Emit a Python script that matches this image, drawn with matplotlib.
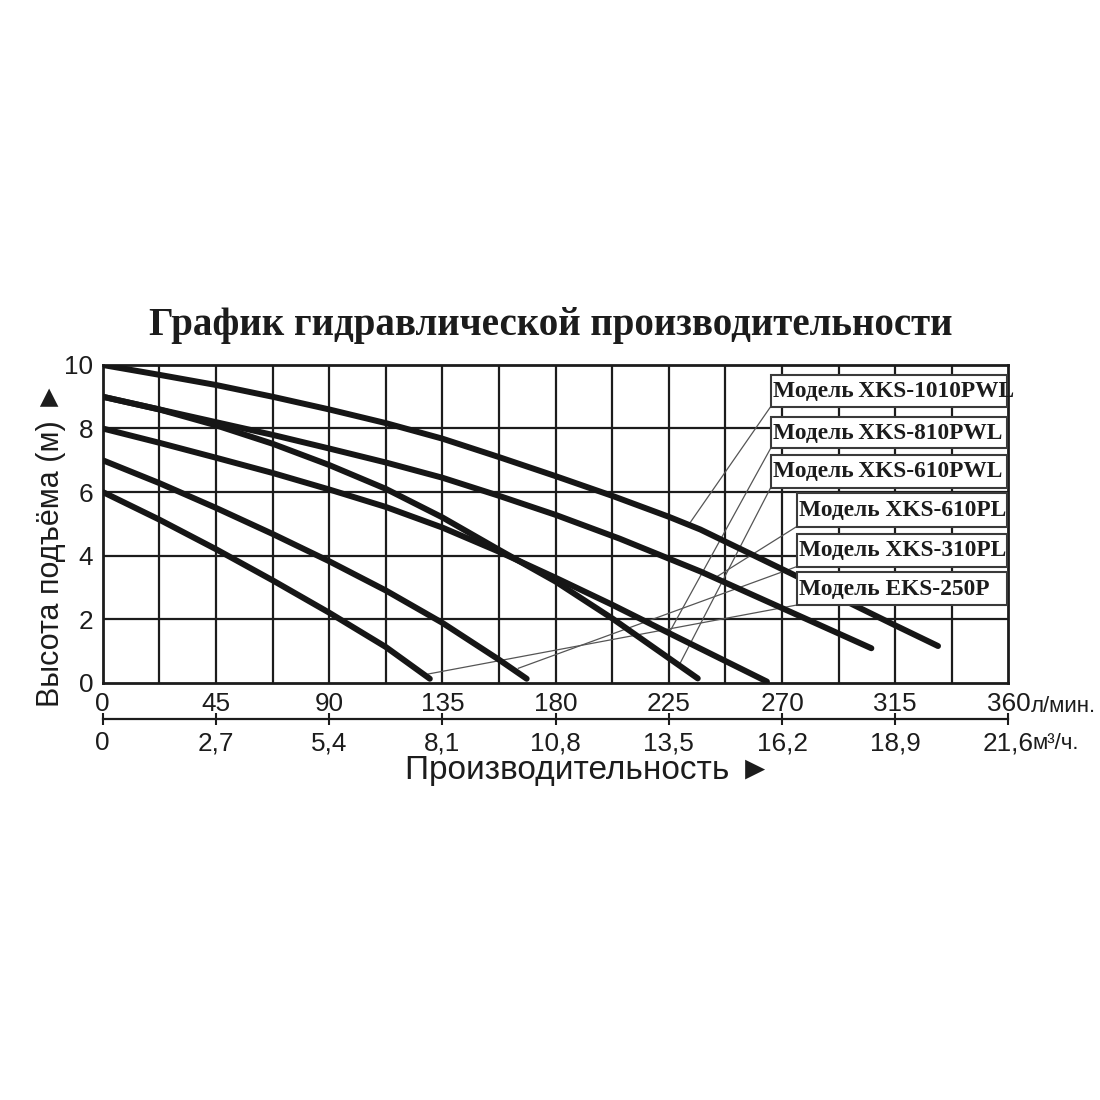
import matplotlib
matplotlib.use("Agg")
import matplotlib.pyplot as plt
from matplotlib.patches import Rectangle

plt.rcParams['font.family'] = ['Liberation Sans', 'DejaVu Sans']

# ---- data (flow in l/min, head in m) ----
c1_x = [0, 22.5, 45, 67.5, 90, 112.5, 135, 157.5, 180, 202.5, 225, 237.5, 274.5, 297, 315, 332]
c1_y = [10.0, 9.69, 9.37, 9.0, 8.6, 8.17, 7.68, 7.1, 6.5, 5.88, 5.22, 4.82, 3.4, 2.5, 1.8, 1.15]

c2_x = [0, 22.5, 45, 67.5, 90, 112.5, 135, 157.5, 180, 205.5, 237.5, 269, 305.5]
c2_y = [9.0, 8.6, 8.2, 7.8, 7.37, 6.93, 6.45, 5.88, 5.28, 4.53, 3.5, 2.38, 1.08]

c3_x = [0, 22.5, 45, 67.5, 90, 112.5, 135, 157.5, 180, 202.5, 236.5]
c3_y = [9.0, 8.6, 8.1, 7.52, 6.85, 6.1, 5.2, 4.18, 3.18, 2.02, 0.13]

c4_x = [0, 22.5, 45, 67.5, 90, 112.5, 135, 157.5, 180, 202.5, 225, 264]
c4_y = [8.0, 7.55, 7.08, 6.6, 6.08, 5.53, 4.88, 4.12, 3.3, 2.45, 1.56, 0.03]

c5_x = [0, 22.5, 45, 67.5, 90, 112.5, 135, 157.5, 168.5]
c5_y = [7.0, 6.28, 5.5, 4.68, 3.82, 2.9, 1.88, 0.72, 0.12]

c6_x = [0, 22.5, 45, 67.5, 90, 112.5, 130]
c6_y = [6.0, 5.13, 4.2, 3.22, 2.2, 1.12, 0.12]

curves = [(c1_x, c1_y), (c2_x, c2_y), (c3_x, c3_y), (c4_x, c4_y), (c5_x, c5_y), (c6_x, c6_y)]

model_labels = ["Модель\u2009XKS-1010PWL", "Модель\u2009XKS-810PWL", "Модель\u2009XKS-610PWL",
                "Модель XKS-610PL", "Модель XKS-310PL", "Модель EKS-250P"]
# box extents (data units)
box_x0 = [265.5, 265.5, 265.5, 275.8, 275.8, 275.8]
box_x1 = [359.3, 359.3, 359.3, 359.3, 359.3, 359.3]
box_y0 = [8.69, 7.38, 6.14, 4.91, 3.65, 2.44]
box_y1 = [9.69, 8.37, 7.17, 5.96, 4.68, 3.49]
# leader line targets on curves
lead_x = [232.8, 225.5, 229.5, 242.6, 165.2, 129.4]
lead_y = [4.96, 1.62, 0.61, 3.26, 0.45, 0.27]

lpm_ticks = [0, 45, 90, 135, 180, 225, 270, 315, 360]
lpm_labels = ["0", "45", "90", "135", "180", "225", "270", "315", "360"]
m3h_ticks = [0, 2.7, 5.4, 8.1, 10.8, 13.5, 16.2, 18.9, 21.6]
m3h_labels = ["0", "2,7", "5,4", "8,1", "10,8", "13,5", "16,2", "18,9", "21,6"]
head_ticks = [0, 2, 4, 6, 8, 10]
grid_x = [22.5 * i for i in range(1, 16)]

title = "График гидравлической производительности"
ylabel = "Высота подъёма (м) \u25BA"
xlabel = "Производительность \u25BA"

INK = "#1c1c1c"

fig = plt.figure(figsize=(11, 11), dpi=100)
fig.patch.set_facecolor("white")
ax = fig.add_axes([0.0934, 0.3795, 0.8234, 0.2887])
ax.set_xlim(0, 360)
ax.set_ylim(0, 10)

for gx in grid_x:
    ax.axvline(gx, color=INK, lw=1.6, zorder=1)
for gy in head_ticks[1:-1]:
    ax.axhline(gy, color=INK, lw=1.6, zorder=1)

for sp in ax.spines.values():
    sp.set_linewidth(2.0)
    sp.set_color(INK)

ax.set_xticks(lpm_ticks)
ax.set_xticklabels(lpm_labels)
ax.set_yticks(head_ticks)
ax.set_yticklabels([str(v) for v in head_ticks])
ax.tick_params(axis='both', length=0, labelsize=18.8, colors=INK)
ax.tick_params(axis='x', pad=7)
ax.tick_params(axis='y', pad=7)

# leader lines
for i in range(6):
    ax.plot([box_x0[i], lead_x[i]], [box_y0[i], lead_y[i]], color="#555555", lw=0.9, zorder=2)

# curves
for cx, cy in curves:
    ax.plot(cx, cy, color="#161616", lw=4.3, solid_capstyle='round',
            solid_joinstyle='round', zorder=3)

# boxes
for i in range(6):
    r = Rectangle((box_x0[i], box_y0[i]), box_x1[i] - box_x0[i], box_y1[i] - box_y0[i],
                  facecolor="white", edgecolor="#3a3a3a", lw=1.5, zorder=4, clip_on=False)
    ax.add_patch(r)
    ax.text(box_x0[i] + 0.9, (box_y0[i] + box_y1[i]) / 2 - 0.02, model_labels[i],
            fontsize=16.8, fontweight='bold', family=['Liberation Serif', 'DejaVu Serif'],
            color=INK, ha='left', va='center', zorder=5, clip_on=False)

# secondary axis (m3/h)
sec = ax.secondary_xaxis(-0.116, functions=(lambda x: x * 0.06, lambda x: x / 0.06))
sec.set_xticks(m3h_ticks)
sec.set_xticklabels(m3h_labels)
sec.tick_params(axis='x', direction='inout', length=9, width=1.5, labelsize=18.8,
                colors=INK, pad=4)
sec.spines['bottom'].set_linewidth(1.6)
sec.spines['bottom'].set_color(INK)

fig.text(0.501, 0.7040, title, ha='center', va='center', fontsize=28, fontweight='bold',
         family=['Liberation Serif', 'DejaVu Serif'], color=INK)
fig.text(0.046, 0.505, ylabel, rotation=90, ha='center', va='center', fontsize=22, color=INK)
fig.text(0.5345, 0.300, xlabel, ha='center', va='center', fontsize=24, color=INK)
fig.text(0.9375, 0.3575, "л/мин.", ha='left', va='center', fontsize=16, color=INK)
fig.text(0.9385, 0.3245, "м\u00b3/ч.", ha='left', va='center', fontsize=16, color=INK)

fig.savefig("out.png", dpi=100, facecolor="white")
